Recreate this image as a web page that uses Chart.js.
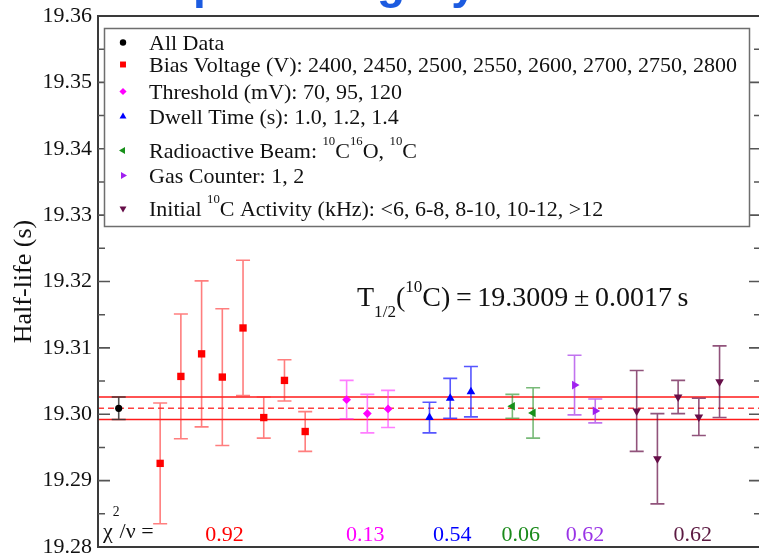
<!DOCTYPE html>
<html>
<head>
<meta charset="utf-8">
<title>10C half-life by category</title>
<script src="https://cdn.jsdelivr.net/npm/chart.js@4.4.1/dist/chart.umd.min.js"></script>
<style>
  html, body { margin: 0; padding: 0; background: #fff; overflow: hidden; }
  #wrap { position: relative; width: 770px; height: 556px; }
</style>
</head>
<body>
<div id="wrap"><canvas id="halfLifeChart" width="770" height="556"></canvas></div>
<script>
// --- Data: fitted half-lives (s) per run condition ---
const allValues = [19.3009];
const allErrors = [0.0017];

const biasLabels = ['2400', '2450', '2500', '2550', '2600', '2700', '2750', '2800'];
const biasValues = [19.2926, 19.3057, 19.3091, 19.3056, 19.3130, 19.2995, 19.3051, 19.2974];
const biasErrors = [0.0091, 0.0094, 0.0110, 0.0103, 0.0102, 0.0031, 0.0031, 0.0030];

const thresholdLabels = ['70', '95', '120'];
const thresholdValues = [19.3022, 19.3001, 19.3008];
const thresholdErrors = [0.0029, 0.0029, 0.0028];

const dwellLabels = ['1.0', '1.2', '1.4'];
const dwellValues = [19.2995, 19.3024, 19.3034];
const dwellErrors = [0.0023, 0.0030, 0.0038];

const beamLabels = ['^{10}C^{16}O', '^{10}C'];
const beamValues = [19.3012, 19.3002];
const beamErrors = [0.0018, 0.0038];

const counterLabels = ['1', '2'];
const counterValues = [19.3044, 19.3005];
const counterErrors = [0.0045, 0.0018];

const activityLabels = ['<6', '6-8', '8-10', '10-12', '>12'];
const activityValues = [19.3005, 19.2933, 19.3026, 19.2996, 19.3049];
const activityErrors = [0.0061, 0.0068, 0.0025, 0.0028, 0.0054];

// reduced chi-square of each group (bias ... activity)
const chiSquared = ['0.92', '0.13', '0.54', '0.06', '0.62', '0.62'];

const yMin = 19.28;
const yMax = 19.36;
const yStep = 0.01;

const SERIF = "'Liberation Serif', 'Times New Roman', serif";
const SANS = "'Liberation Sans', Arial, sans-serif";

document.addEventListener('DOMContentLoaded', function() {

    // --- Groups, in plotting order ---
    const groups = [
        { name: 'All Data', values: allValues, errors: allErrors,
          color: '#000000', bar: 'rgba(50, 50, 50, 0.85)', style: 'circle', rotation: 0, radius: 3.6, legendRadius: 3.2 },
        { name: 'Bias Voltage (V): ' + biasLabels.join(', '), values: biasValues, errors: biasErrors,
          color: '#ff0000', bar: 'rgba(255, 40, 40, 0.6)', style: 'rect', rotation: 0, radius: 5.2, legendRadius: 4.2, chi: '#ff0000' },
        { name: 'Threshold (mV): ' + thresholdLabels.join(', '), values: thresholdValues, errors: thresholdErrors,
          color: '#ff00ff', bar: 'rgba(255, 40, 255, 0.6)', style: 'rectRot', rotation: 0, radius: 4.4, legendRadius: 3.6, chi: '#ff00ff' },
        { name: 'Dwell Time (s): ' + dwellLabels.join(', '), values: dwellValues, errors: dwellErrors,
          color: '#0000ff', bar: 'rgba(30, 30, 255, 0.75)', style: 'triangle', rotation: 0, radius: 5, legendRadius: 4, chi: '#0000ff' },
        { name: 'Radioactive Beam: ' + beamLabels.join(', '), values: beamValues, errors: beamErrors,
          color: '#17901a', bar: 'rgba(30, 140, 30, 0.6)', style: 'triangle', rotation: -90, radius: 5, legendRadius: 4, chi: '#1a8a1a' },
        { name: 'Gas Counter: ' + counterLabels.join(', '), values: counterValues, errors: counterErrors,
          color: '#a020f0', bar: 'rgba(160, 40, 230, 0.65)', style: 'triangle', rotation: 90, radius: 5, legendRadius: 4, chi: '#9933e6' },
        { name: 'Initial ^{10}C Activity (kHz): ' + activityLabels.join(', '), values: activityValues, errors: activityErrors,
          color: '#660e48', bar: 'rgba(102, 16, 72, 0.72)', style: 'triangle', rotation: 180, radius: 5, legendRadius: 4, chi: '#5c1a42' }
    ];

    // each group gets consecutive slots, with one empty slot between groups
    let slot = 1;
    const datasets = groups.map(function(g) {
        const data = g.values.map(function(v, i) { return { x: slot + i, y: v }; });
        slot += g.values.length + 1;
        return {
            label: g.name,
            data: data,
            errors: g.errors,
            barColor: g.bar,
            pointStyle: g.style,
            rotation: g.rotation,
            pointRadius: g.radius,
            pointBackgroundColor: g.color,
            pointBorderWidth: 0,
            showLine: false
        };
    });

    // --- Rich text: ^{..} superscript, _{..} subscript ---
    function parseRich(str) {
        const segs = [];
        const re = /([\^_])\{([^}]*)\}/g;
        let last = 0, m;
        while ((m = re.exec(str))) {
            if (m.index > last) segs.push({ text: str.slice(last, m.index), shift: 0 });
            segs.push({ text: m[2], shift: m[1] === '^' ? 1 : -1 });
            last = re.lastIndex;
        }
        if (last < str.length) segs.push({ text: str.slice(last), shift: 0 });
        return segs;
    }

    function drawRich(ctx, str, x, y, size, o) {
        o = Object.assign({ scale: 0.6, rise: 0.5, drop: 0.36 }, o || {});
        let cx = x;
        parseRich(str).forEach(function(s) {
            const fs = s.shift ? size * o.scale : size;
            ctx.font = fs + 'px ' + SERIF;
            const dy = s.shift > 0 ? -size * o.rise : (s.shift < 0 ? size * o.drop : 0);
            ctx.fillText(s.text, cx, y + dy);
            cx += ctx.measureText(s.text).width;
        });
        return cx - x;
    }

    function drawMarker(ctx, style, rotation, r, x, y) {
        ctx.save();
        ctx.translate(x, y);
        ctx.rotate(rotation * Math.PI / 180);
        ctx.beginPath();
        if (style === 'circle') {
            ctx.arc(0, 0, r, 0, Math.PI * 2);
        } else if (style === 'rect') {
            const s = r * Math.SQRT1_2;
            ctx.rect(-s, -s, 2 * s, 2 * s);
        } else if (style === 'rectRot') {
            ctx.moveTo(0, -r); ctx.lineTo(r, 0); ctx.lineTo(0, r); ctx.lineTo(-r, 0);
        } else {
            ctx.moveTo(0, -r);
            ctx.lineTo(r * 0.866, r * 0.5);
            ctx.lineTo(-r * 0.866, r * 0.5);
        }
        ctx.closePath();
        ctx.fill();
        ctx.restore();
    }

    // --- Error bars and the weighted mean band ---
    const errorBarPlugin = {
        id: 'errorBars',
        beforeDatasetsDraw(chart) {
            const { ctx, chartArea: a, scales: { y } } = chart;
            const mean = allValues[0];
            const err = allErrors[0];

            ctx.save();
            ctx.strokeStyle = '#ff1a1a';
            ctx.lineWidth = 1.4;
            [mean + err, mean - err].forEach(function(v) {
                const py = y.getPixelForValue(v);
                ctx.beginPath(); ctx.moveTo(a.left, py); ctx.lineTo(a.right, py); ctx.stroke();
            });
            ctx.setLineDash([6, 4]);
            ctx.strokeStyle = 'rgba(255, 30, 30, 0.85)';
            const pm = y.getPixelForValue(mean);
            ctx.beginPath(); ctx.moveTo(a.left, pm); ctx.lineTo(a.right, pm); ctx.stroke();
            ctx.setLineDash([]);

            chart.data.datasets.forEach(function(ds, di) {
                const meta = chart.getDatasetMeta(di);
                ctx.strokeStyle = ds.barColor;
                ctx.lineWidth = 1.6;
                meta.data.forEach(function(pt, i) {
                    const v = ds.data[i].y;
                    const e = ds.errors[i];
                    const top = y.getPixelForValue(v + e);
                    const bot = y.getPixelForValue(v - e);
                    const cap = 7;
                    ctx.beginPath();
                    ctx.moveTo(pt.x, top); ctx.lineTo(pt.x, bot);
                    ctx.moveTo(pt.x - cap, top); ctx.lineTo(pt.x + cap, top);
                    ctx.moveTo(pt.x - cap, bot); ctx.lineTo(pt.x + cap, bot);
                    ctx.stroke();
                });
            });
            ctx.restore();
        }
    };

    // --- Frame, inward ticks, legend box and text labels ---
    const legendBox = { left: 104.5, top: 28.5, right: 749.5, bottom: 226.5 };
    const legendBaselines = [50, 72, 99, 124, 158, 183, 216];
    const chiSlots = [6.1, 12.9, 17.1, 20.4, 23.5, 28.7];

    const decorPlugin = {
        id: 'decor',
        afterDraw(chart) {
            const { ctx, chartArea: a, scales: { x, y } } = chart;
            ctx.save();

            // axes frame
            ctx.strokeStyle = '#3a3a3a';
            ctx.lineWidth = 2;
            ctx.strokeRect(a.left, a.top, a.right - a.left, a.bottom - a.top);

            // major ticks every 0.01, minor every 0.005, pointing inwards
            ctx.strokeStyle = '#555';
            ctx.lineWidth = 1.6;
            const n = Math.round((yMax - yMin) / (yStep / 2));
            for (let i = 1; i < n; i++) {
                const py = y.getPixelForValue(yMin + i * yStep / 2);
                const len = i % 2 === 0 ? 12 : 7;
                ctx.beginPath();
                ctx.moveTo(a.left, py); ctx.lineTo(a.left + len, py);
                ctx.moveTo(a.right, py); ctx.lineTo(a.right - len, py);
                ctx.stroke();
            }

            // legend
            ctx.fillStyle = '#ffffff';
            ctx.fillRect(legendBox.left, legendBox.top, legendBox.right - legendBox.left, legendBox.bottom - legendBox.top);
            ctx.strokeStyle = '#6e6e6e';
            ctx.lineWidth = 1.5;
            ctx.strokeRect(legendBox.left, legendBox.top, legendBox.right - legendBox.left, legendBox.bottom - legendBox.top);
            ctx.textAlign = 'left';
            ctx.textBaseline = 'alphabetic';
            groups.forEach(function(g, i) {
                const by = legendBaselines[i];
                ctx.fillStyle = g.color;
                drawMarker(ctx, g.style, g.rotation, g.legendRadius, 123, by - 7.5);
                ctx.fillStyle = '#111';
                drawRich(ctx, g.name, 149, by, 22, { scale: 0.58, rise: 0.6 });
            });

            // result of the weighted mean
            ctx.fillStyle = '#111';
            const sp = '\u2009';
            const resultText = 'T_{1/2}(^{10}C)' + sp + '=' + sp + allValues[0].toFixed(4) + sp + '±' + sp +
                allErrors[0].toFixed(4) + sp + 's';
            drawRich(ctx, resultText, 357, 306, 28, { scale: 0.61, rise: 0.5, drop: 0.38 });

            // reduced chi-square per group
            drawRich(ctx, 'χ^{2}/ν =', 103, 538, 22, { scale: 0.62, rise: 1.0 });
            ctx.textAlign = 'center';
            ctx.font = '22px ' + SERIF;
            chiSquared.forEach(function(c, i) {
                ctx.fillStyle = groups[i + 1].chi;
                ctx.fillText(c, x.getPixelForValue(chiSlots[i]), 541);
            });

            // slide heading, mostly above the visible area
            ctx.textAlign = 'left';
            ctx.textBaseline = 'alphabetic';
            ctx.font = 'bold 46px ' + SANS;
            ctx.fillStyle = '#1c5be0';
            const lead = 'Half-life ';
            ctx.fillText('Half-life per Category', 193 - ctx.measureText(lead).width, -2);

            ctx.restore();
        }
    };

    // --- Chart ---
    const canvas = document.getElementById('halfLifeChart');
    new Chart(canvas.getContext('2d'), {
        type: 'scatter',
        data: { datasets: datasets },
        options: {
            responsive: false,
            animation: false,
            layout: { padding: { top: 16, right: 9, bottom: 9, left: 0 } },
            plugins: {
                legend: { display: false },
                tooltip: { enabled: false }
            },
            scales: {
                x: { display: false, min: 0, max: 32 },
                y: {
                    min: yMin,
                    max: yMax,
                    afterFit: function(scale) {
                        scale.width = 98;
                        scale.paddingTop = 0;
                        scale.paddingBottom = 0;
                    },
                    grid: { display: false, drawTicks: false },
                    border: { display: false },
                    ticks: {
                        stepSize: yStep,
                        padding: 6,
                        color: '#111',
                        font: { family: SERIF, size: 22 },
                        callback: function(value) { return value.toFixed(2); }
                    },
                    title: {
                        display: true,
                        text: 'Half-life (s)',
                        color: '#111',
                        font: { family: SERIF, size: 26 },
                        padding: { top: 9, bottom: 0 }
                    }
                }
            }
        },
        plugins: [errorBarPlugin, decorPlugin]
    });
});
</script>
</body>
</html>
